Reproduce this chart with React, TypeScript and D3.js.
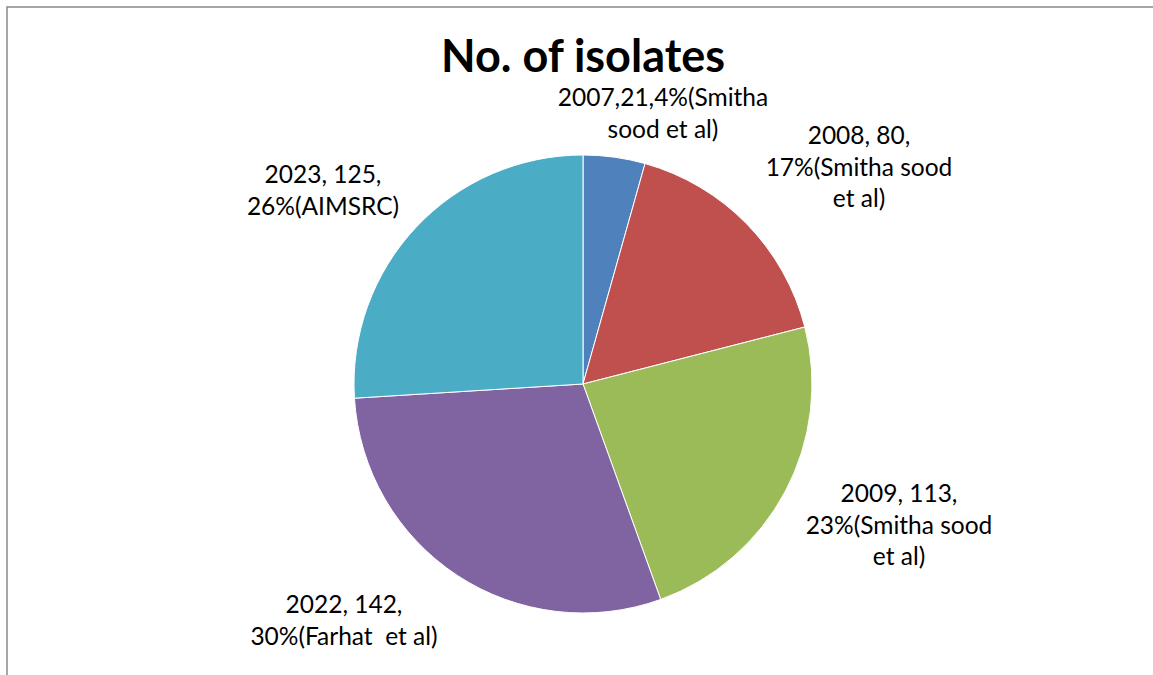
import React from "react";
import * as d3 from "d3";

const years = ["2007", "2008", "2009", "2022", "2023"];
const isolates = [21, 80, 113, 142, 125];
const labelLines = [
  ["2007,21,4%(Smitha", "sood et al)"],
  ["2008, 80,", "17%(Smitha sood", "et al)"],
  ["2009, 113,", "23%(Smitha sood", "et al)"],
  ["2022, 142,", "30%(Farhat\u00a0 et al)"],
  ["2023, 125,", "26%(AIMSRC)"],
];
const colors = ["#4F81BD", "#C0504D", "#9BBB59", "#8064A2", "#4BACC6"];
// label block anchor (x center, first baseline) relative to pie center
const labelOffsets = [
  [80, -278],
  [276, -240],
  [316, 118],
  [-239, 229],
  [-260, -201],
];

export default function App() {
  const W = 1153, H = 675;
  const cx = 583, cy = 384, r = 229;
  const data = years.map((y, i) => ({ year: y, value: isolates[i], i }));
  const pie = d3.pie<any>().value((d) => d.value).sort(null);
  const arcs = pie(data);
  const arc = d3.arc<any>().innerRadius(0).outerRadius(r);
  const lh = 31.5;
  return (
    <svg width={W} height={H} style={{ position: "absolute", left: 0, top: 0 }}>
      <rect x={7} y={7} width={W} height={H} fill="#fff" stroke="#888" strokeWidth={1.5} />
      <text x={cx} y={72} textAnchor="middle" fontFamily="Lato, Carlito, sans-serif" fontWeight="bold" fontSize={45} fill="#000">
        No. of isolates
      </text>
      <g transform={`translate(${cx},${cy})`}>
        {arcs.map((a, i) => (
          <path key={i} d={arc(a) as string} fill={colors[i]} stroke="#fff" strokeWidth={1} />
        ))}
      </g>
      {labelLines.map((lines, i) => (
        <text key={i} textAnchor="middle" fontFamily="Lato, Carlito, sans-serif" fontSize={24.5} fill="#000">
          {lines.map((t, j) => (
            <tspan key={j} x={cx + labelOffsets[i][0]} y={cy + labelOffsets[i][1] + j * lh}>
              {t}
            </tspan>
          ))}
        </text>
      ))}
    </svg>
  );
}
